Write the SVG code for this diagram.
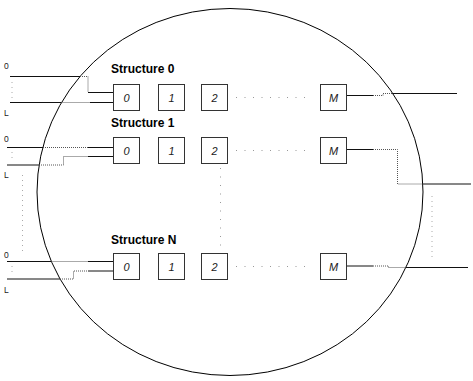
<svg xmlns="http://www.w3.org/2000/svg" width="473" height="381" viewBox="0 0 473 381">
<style>
.bx{fill:#fff;stroke:#333;stroke-width:1}
.bl{font-family:"Liberation Sans",Arial,sans-serif;font-size:11px;font-style:italic;text-anchor:middle;fill:#222}
.st{font-family:"Liberation Sans",Arial,sans-serif;font-size:12px;font-weight:bold;fill:#000}
.sm{font-family:"Liberation Sans",Arial,sans-serif;font-size:8.5px;fill:#222}
.s{fill:none;stroke:#111;stroke-width:1}
.d{fill:none;stroke:#555;stroke-width:1;stroke-dasharray:1 1}
.sp{fill:none;stroke:#999;stroke-width:1;stroke-dasharray:1 7.5}
.sv{fill:none;stroke:#aaa;stroke-width:1;stroke-dasharray:1 4}
</style>
<rect width="473" height="381" fill="#fff"/>
<ellipse cx="230" cy="192" rx="193" ry="183.5" fill="none" stroke="#000" stroke-width="1"/>
<g id="connectors">
<path class="s" d="M10,76.5H80"/>
<path class="d" d="M80,76.5H88V92.5"/>
<path class="s" d="M88,92.5H113.5"/>
<path class="s" d="M10,102.5H61.5"/>
<path class="d" d="M61.5,102.5H90"/>
<path class="s" d="M90,102.5H113.5"/>
<path class="sv" d="M12,82V98"/>
<path class="s" d="M7,147.5H43"/>
<path class="d" d="M43,147.5H88"/>
<path class="s" d="M88,147.5H113.5"/>
<path class="s" d="M7,165H39"/>
<path class="d" d="M39,165H63.5V156.5H88"/>
<path class="s" d="M88,156.5H113.5"/>
<path class="sv" d="M12,152V162"/>
<path class="sv" d="M22.5,175V252"/>
<path class="s" d="M7,261.5H51.5"/>
<path class="d" d="M51.5,261.5H88"/>
<path class="s" d="M88,261.5H113.5"/>
<path class="s" d="M7,279H60"/>
<path class="d" d="M60,279H73.5V271H88"/>
<path class="s" d="M88,271H113.5"/>
<path class="sv" d="M12,266V275"/>
<path class="sp" d="M236,97.5H310"/>
<path class="sp" d="M236,150.5H310"/>
<path class="sp" d="M236,266.5H310"/>
<path class="sp" d="M220.5,168V246"/>
<path class="s" d="M346.5,95.5H373"/>
<path class="d" d="M373,95.5H383V93.5H393"/>
<path class="s" d="M393,93.5H457"/>
<path class="s" d="M346.5,149.5H373"/>
<path class="d" d="M373,149.5H397.5V184H423"/>
<path class="s" d="M423,184H471"/>
<path class="s" d="M346.5,266H373"/>
<path class="d" d="M373,266H388.5V267.5H406"/>
<path class="s" d="M406,267.5H468"/>
<path class="sv" d="M432,196V258"/>
</g>
<g id="labels">
<text class="st" x="111" y="73">Structure 0</text>
<text class="st" x="111" y="127">Structure 1</text>
<text class="st" x="111" y="244">Structure N</text>
<text class="sm" x="4" y="69">0</text>
<text class="sm" x="4" y="116">L</text>
<text class="sm" x="4" y="142">0</text>
<text class="sm" x="4" y="178">L</text>
<text class="sm" x="4" y="258">0</text>
<text class="sm" x="4" y="293">L</text>
</g>
<g id="row0">
<g id="s0b0"><rect class="bx" x="113.5" y="84.5" width="26" height="26"/><text class="bl" x="126.5" y="101.5">0</text></g>
<g id="s0b1"><rect class="bx" x="158.5" y="84.5" width="26" height="26"/><text class="bl" x="171.5" y="101.5">1</text></g>
<g id="s0b2"><rect class="bx" x="201.5" y="84.5" width="26" height="26"/><text class="bl" x="214.5" y="101.5">2</text></g>
<g id="s0bM"><rect class="bx" x="320.5" y="84.5" width="26" height="26"/><text class="bl" x="333.5" y="101.5">M</text></g>
</g>
<g id="row1">
<g id="s1b0"><rect class="bx" x="113.5" y="137.5" width="26" height="26"/><text class="bl" x="126.5" y="154.5">0</text></g>
<g id="s1b1"><rect class="bx" x="158.5" y="137.5" width="26" height="26"/><text class="bl" x="171.5" y="154.5">1</text></g>
<g id="s1b2"><rect class="bx" x="201.5" y="137.5" width="26" height="26"/><text class="bl" x="214.5" y="154.5">2</text></g>
<g id="s1bM"><rect class="bx" x="320.5" y="137.5" width="26" height="26"/><text class="bl" x="333.5" y="154.5">M</text></g>
</g>
<g id="rowN">
<g id="sNb0"><rect class="bx" x="113.5" y="253.5" width="26" height="26"/><text class="bl" x="126.5" y="270.5">0</text></g>
<g id="sNb1"><rect class="bx" x="158.5" y="253.5" width="26" height="26"/><text class="bl" x="171.5" y="270.5">1</text></g>
<g id="sNb2"><rect class="bx" x="201.5" y="253.5" width="26" height="26"/><text class="bl" x="214.5" y="270.5">2</text></g>
<g id="sNbM"><rect class="bx" x="320.5" y="253.5" width="26" height="26"/><text class="bl" x="333.5" y="270.5">M</text></g>
</g>
</svg>
